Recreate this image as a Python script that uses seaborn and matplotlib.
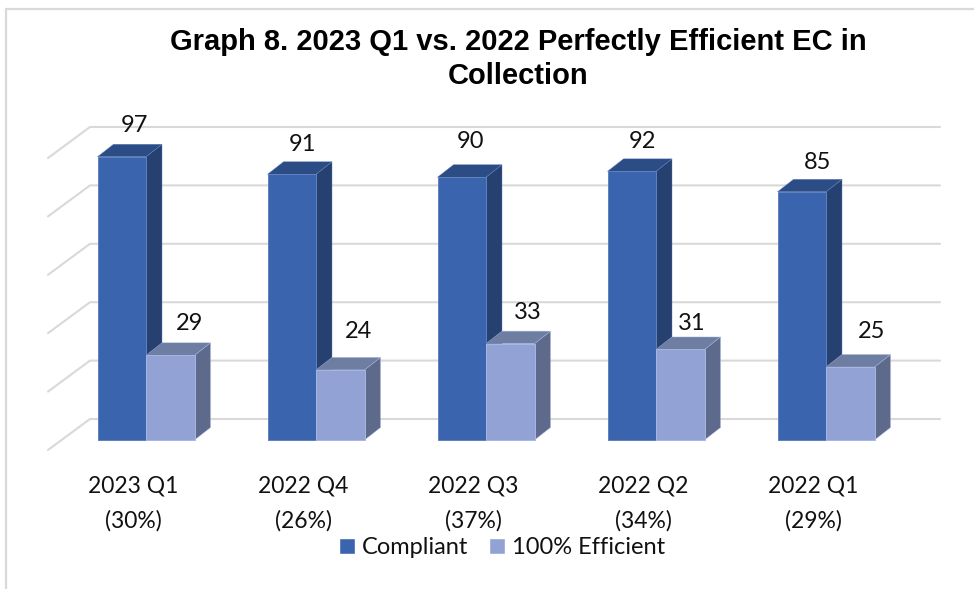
import pandas as pd
import matplotlib
matplotlib.use("Agg")
import matplotlib.pyplot as plt
from matplotlib.patches import Polygon
from matplotlib.lines import Line2D
from matplotlib.transforms import ScaledTranslation
import seaborn as sns

quarters = ["2023 Q1\n(30%)", "2022 Q4\n(26%)", "2022 Q3\n(37%)", "2022 Q2\n(34%)", "2022 Q1\n(29%)"]
compliant = [97, 91, 90, 92, 85]
efficient = [29, 24, 33, 31, 25]
series_names = ["Compliant", "100% Efficient"]
grid_values = [0, 20, 40, 60, 80, 100]

W, H = 974, 589
PX_PER_UNIT = 2.92
STEP_PX = 170
DEPTH_X, DEPTH_Y = 16, 12.5
BLUE = dict(front="#3A64AD", side="#264070", top="#2C4C85", edge="#5F82C0")
LIGHT = dict(front="#92A2D5", side="#5E6A8B", top="#6E7DA2", edge="#A8B6E2")
# label nudges in px from the centre of the front top edge (dx, dy upward)
nudge_c = [(13, 31), (11, 30), (9, 36), (11, 30), (16, 29)]
nudge_e = [(19, 32), (18, 38), (18, 31), (11, 26), (21, 36)]

sns.set_theme(style="white")
plt.rcParams["font.family"] = ["Lato", "DejaVu Sans"]

df = pd.DataFrame({
    "quarter": quarters * 2,
    "series": [series_names[0]] * 5 + [series_names[1]] * 5,
    "value": compliant + efficient,
})

fig = plt.figure(figsize=(W / 100, H / 100), dpi=100, facecolor="white")
left, right, top, bottom = 48, 940, 110, 452
ax = fig.add_axes([left / W, 1 - bottom / H, (right - left) / W, (bottom - top) / H])
sns.barplot(data=df, x="quarter", y="value", hue="series", order=quarters,
            hue_order=series_names, palette=[BLUE["front"], LIGHT["front"]],
            width=97 / STEP_PX, gap=0, dodge=True, saturation=1, ax=ax, zorder=3)

x0 = 146
ax.set_xlim((left - x0) / STEP_PX, (right - x0) / STEP_PX)
ax.set_ylim((440 - bottom) / PX_PER_UNIT, (440 - top) / PX_PER_UNIT)
ax.set_xlabel("")
ax.set_ylabel("")
ax.set_yticks([])
ax.tick_params(axis="x", length=0, pad=17, labelsize=16.5, labelcolor="#111111")
shift = ScaledTranslation(-12.5 / 100, 0, fig.dpi_scale_trans)
for lab in ax.get_xticklabels():
    lab.set_linespacing(1.75)
    lab.set_transform(lab.get_transform() + shift)
for s in ax.spines.values():
    s.set_visible(False)
ax.patch.set_alpha(0)

# wall gridlines
xa, xb = ax.get_xlim()
xm = (90 - x0) / STEP_PX
for v in grid_values:
    front_y = v - 10 / PX_PER_UNIT
    back_y = v + 21 / PX_PER_UNIT
    ax.plot([xa, xm, xb], [front_y, back_y, back_y], color="#D9D9D9", lw=1.5,
            zorder=1, clip_on=False, solid_joinstyle="miter")

# pseudo-3D faces derived from seaborn's bars
dx = DEPTH_X / STEP_PX
dy = DEPTH_Y / PX_PER_UNIT
for cont, pal, nudges, z in zip(ax.containers, (BLUE, LIGHT), (nudge_c, nudge_e), (2, 2.5)):
    for bar, (nx, ny) in zip(cont, nudges):
        x1, w, h = bar.get_x(), bar.get_width(), bar.get_height()
        x2 = x1 + w
        bar.set_edgecolor(pal["edge"])
        bar.set_linewidth(0.7)
        ax.add_patch(Polygon([(x2, 0), (x2 + dx, dy), (x2 + dx, h + dy), (x2, h)],
                             facecolor=pal["side"], edgecolor=pal["edge"], lw=0.3, zorder=z))
        ax.add_patch(Polygon([(x1, h), (x1 + dx, h + dy), (x2 + dx, h + dy), (x2, h)],
                             facecolor=pal["top"], edgecolor=pal["edge"], lw=0.3, zorder=z))
        ax.annotate(f"{h:.0f}", (x1 + w / 2, h), xytext=(nx * 0.72, ny * 0.72),
                    textcoords="offset points", ha="center", va="center",
                    fontsize=17, color="#111111", zorder=5)

handles, labels = ax.get_legend_handles_labels()
ax.legend(handles, labels, loc="center", bbox_to_anchor=(502 / W, 1 - 547.5 / H),
          bbox_transform=fig.transFigure, ncol=2, frameon=False, fontsize=17,
          labelcolor="#111111", handlelength=0.65, handleheight=0.65,
          handletextpad=0.3, columnspacing=0.9)

fig.text(518 / W, 1 - 42 / H, "Graph 8. 2023 Q1 vs. 2022 Perfectly Efficient EC in",
         ha="center", va="center", fontsize=21, fontweight="bold",
         family="Liberation Sans", color="black")
fig.text(518 / W, 1 - 76 / H, "Collection",
         ha="center", va="center", fontsize=21, fontweight="bold",
         family="Liberation Sans", color="black")

frame = dict(color="#D9D9D9", lw=1.6, transform=fig.transFigure)
fig.add_artist(Line2D([6 / W, 6 / W], [0, 1 - 9 / H], **frame))
fig.add_artist(Line2D([6 / W, 1], [1 - 9 / H, 1 - 9 / H], **frame))

fig.savefig("out.png", dpi=100)
